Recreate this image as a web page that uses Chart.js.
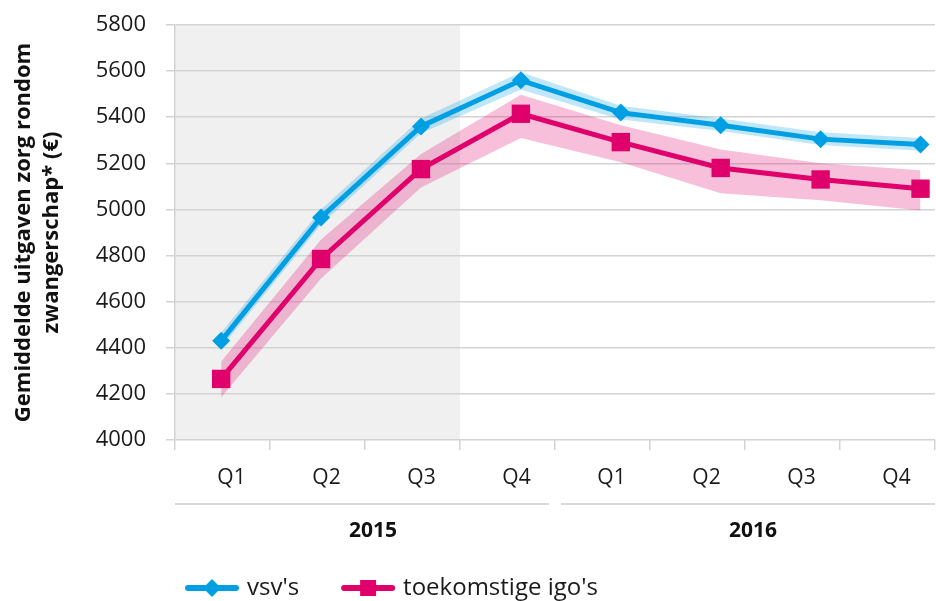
<!doctype html>
<html lang="nl">
<head>
<meta charset="utf-8">
<title>Gemiddelde uitgaven zorg rondom zwangerschap</title>
<script src="https://cdn.jsdelivr.net/npm/chart.js@4.4.1/dist/chart.umd.min.js"></script>
<style>
  html, body { margin: 0; padding: 0; background: #fff; overflow: hidden; }
  #wrap { width: 936px; height: 601px; }
</style>
</head>
<body>
<div id="wrap"><canvas id="chart" width="936" height="601"></canvas></div>
<script>
// categorieen en labels
var quarters = ['Q1', 'Q2', 'Q3', 'Q4', 'Q1', 'Q2', 'Q3', 'Q4'];
var years = ['2015', '2016'];
var seriesNames = ["vsv's", "toekomstige igo's"];
var yTitle = ['Gemiddelde uitgaven zorg rondom', 'zwangerschap* (€)'];

// gemiddelde uitgaven per kwartaal (euro), met band
var vsv     = [4430, 4965, 5360, 5560, 5420, 5365, 5305, 5282];
var vsvLow  = [4400, 4935, 5330, 5520, 5390, 5340, 5280, 5255];
var vsvHigh = [4465, 5000, 5395, 5595, 5450, 5395, 5335, 5310];
var igo     = [4265, 4785, 5175, 5415, 5292, 5180, 5130, 5090];
var igoLow  = [4185, 4700, 5095, 5310, 5205, 5070, 5040, 4995];
var igoHigh = [4340, 4870, 5240, 5497, 5365, 5260, 5200, 5170];

var yMin = 4000, yMax = 5800, yStep = 200;
var shadedQuarters = 3; // 2015 Q1 t/m Q3 grijs

var blue = '#009fe3', blueBand = 'rgba(0,159,227,0.25)';
var pink = '#e0006c', pinkBand = 'rgba(224,0,108,0.25)';
var gridColor = '#d3d3d3';
var fontFamily = '"Open Sans", "DejaVu Sans", sans-serif';

function pts(arr) {
  return arr.map(function (v, i) { return { x: i, y: v }; });
}

// grijze achtergrond achter 2015 Q1-Q3
var greyZone = {
  id: 'greyZone',
  beforeDraw: function (chart) {
    var a = chart.chartArea, s = chart.scales.xq, ctx = chart.ctx;
    var right = (s.getPixelForValue(shadedQuarters - 1) + s.getPixelForValue(shadedQuarters)) / 2;
    ctx.save();
    ctx.fillStyle = '#f0f0f0';
    ctx.fillRect(a.left, a.top, right - a.left, a.bottom - a.top);
    ctx.restore();
  }
};

// lijn tussen kwartalen en jaren, met onderbreking
var yearRule = {
  id: 'yearRule',
  afterDraw: function (chart) {
    var s = chart.scales.year, a = chart.chartArea, ctx = chart.ctx;
    var mid = (s.getPixelForValue(0) + s.getPixelForValue(1)) / 2;
    var y = s.top;
    ctx.save();
    ctx.strokeStyle = '#d9d9d9';
    ctx.lineWidth = 2;
    ctx.beginPath();
    ctx.moveTo(a.left, y); ctx.lineTo(mid - 6, y);
    ctx.moveTo(mid + 6, y); ctx.lineTo(a.right, y);
    ctx.stroke();
    ctx.restore();
  }
};

// legenda met lijn + marker
var lineLegend = {
  id: 'lineLegend',
  afterDraw: function (chart) {
    var ctx = chart.ctx, x = 185, y = 588;
    ctx.save();
    ctx.font = '24px ' + fontFamily;
    ctx.textBaseline = 'middle';
    chart.data.datasets.forEach(function (ds) {
      if (!ds.inLegend) return;
      ctx.strokeStyle = ds.borderColor;
      ctx.fillStyle = ds.borderColor;
      ctx.lineWidth = 6;
      ctx.lineCap = 'round';
      ctx.beginPath(); ctx.moveTo(x + 3, y); ctx.lineTo(x + 51, y); ctx.stroke();
      var cx = x + 27;
      ctx.beginPath();
      if (ds.pointStyle === 'rectRot') {
        ctx.moveTo(cx, y - 9); ctx.lineTo(cx + 9, y); ctx.lineTo(cx, y + 9); ctx.lineTo(cx - 9, y);
        ctx.closePath();
      } else {
        ctx.rect(cx - 8, y - 8, 16, 16);
      }
      ctx.fill();
      ctx.fillStyle = '#1a1a1a';
      ctx.fillText(ds.label, x + 62, y);
      x += 62 + ctx.measureText(ds.label).width + 42;
    });
    ctx.restore();
  }
};

function noPadX(s) { s.paddingLeft = 0; s.paddingRight = 0; }

new Chart(document.getElementById('chart'), {
  type: 'line',
  data: {
    datasets: [
      { label: seriesNames[0], data: pts(vsv), borderColor: blue, backgroundColor: blue,
        borderWidth: 5, pointStyle: 'rectRot', pointRadius: 9, pointHoverRadius: 9,
        pointBorderWidth: 0, fill: false, order: 0, inLegend: true },
      { label: seriesNames[1], data: pts(igo), borderColor: pink, backgroundColor: pink,
        borderWidth: 5, pointStyle: 'rect', pointRadius: 13, pointHoverRadius: 13,
        pointBorderWidth: 0, fill: false, order: 0, inLegend: true },
      { label: 'vsv hoog', data: pts(vsvHigh), borderWidth: 0, borderColor: 'transparent',
        pointRadius: 0, backgroundColor: blueBand, fill: '+1', order: 2 },
      { label: 'vsv laag', data: pts(vsvLow), borderWidth: 0, borderColor: 'transparent',
        pointRadius: 0, fill: false, order: 2 },
      { label: 'igo hoog', data: pts(igoHigh), borderWidth: 0, borderColor: 'transparent',
        pointRadius: 0, backgroundColor: pinkBand, fill: '+1', order: 1 },
      { label: 'igo laag', data: pts(igoLow), borderWidth: 0, borderColor: 'transparent',
        pointRadius: 0, fill: false, order: 1 }
    ]
  },
  options: {
    responsive: false,
    animation: false,
    layout: { autoPadding: false, padding: { top: 25, right: 1, bottom: 47, left: 0 } },
    plugins: {
      legend: { display: false },
      tooltip: { enabled: false }
    },
    scales: {
      x: { type: 'linear', display: false, min: -0.462, max: 7.145 },
      xq: {
        type: 'category', labels: quarters, position: 'bottom', offset: true, weight: 0,
        grid: { display: true, drawOnChartArea: false, offset: true, tickLength: 10, color: gridColor, lineWidth: 1.5 },
        border: { display: false },
        ticks: { padding: 15, labelOffset: 9, autoSkip: false, maxRotation: 0, color: '#1a1a1a',
          font: { family: fontFamily, size: 21 } },
        afterFit: function (s) { s.height = 64; noPadX(s); }
      },
      year: {
        type: 'category', labels: years, position: 'bottom', offset: true, weight: 1,
        grid: { display: false, drawTicks: false },
        border: { display: false },
        ticks: { padding: 14, labelOffset: 8, autoSkip: false, maxRotation: 0, color: '#111',
          font: { family: fontFamily, size: 21, weight: 'bold' } },
        afterFit: function (s) { s.height = 50; noPadX(s); }
      },
      y: {
        min: yMin, max: yMax,
        ticks: { stepSize: yStep, padding: 20, color: '#1a1a1a', font: { family: fontFamily, size: 22 },
          callback: function (v) { return String(v); } },
        grid: { color: gridColor, lineWidth: 1.5, tickLength: 9 },
        border: { display: true, color: gridColor, width: 1.5 },
        title: { display: true, text: yTitle, color: '#111',
          font: { family: fontFamily, size: 22, weight: 'bold', lineHeight: 1.27 },
          padding: { top: 10, bottom: 0 } },
        afterFit: function (s) { s.width = 175; s.paddingTop = 0; s.paddingBottom = 0; }
      }
    }
  },
  plugins: [greyZone, yearRule, lineLegend]
});
</script>
</body>
</html>
